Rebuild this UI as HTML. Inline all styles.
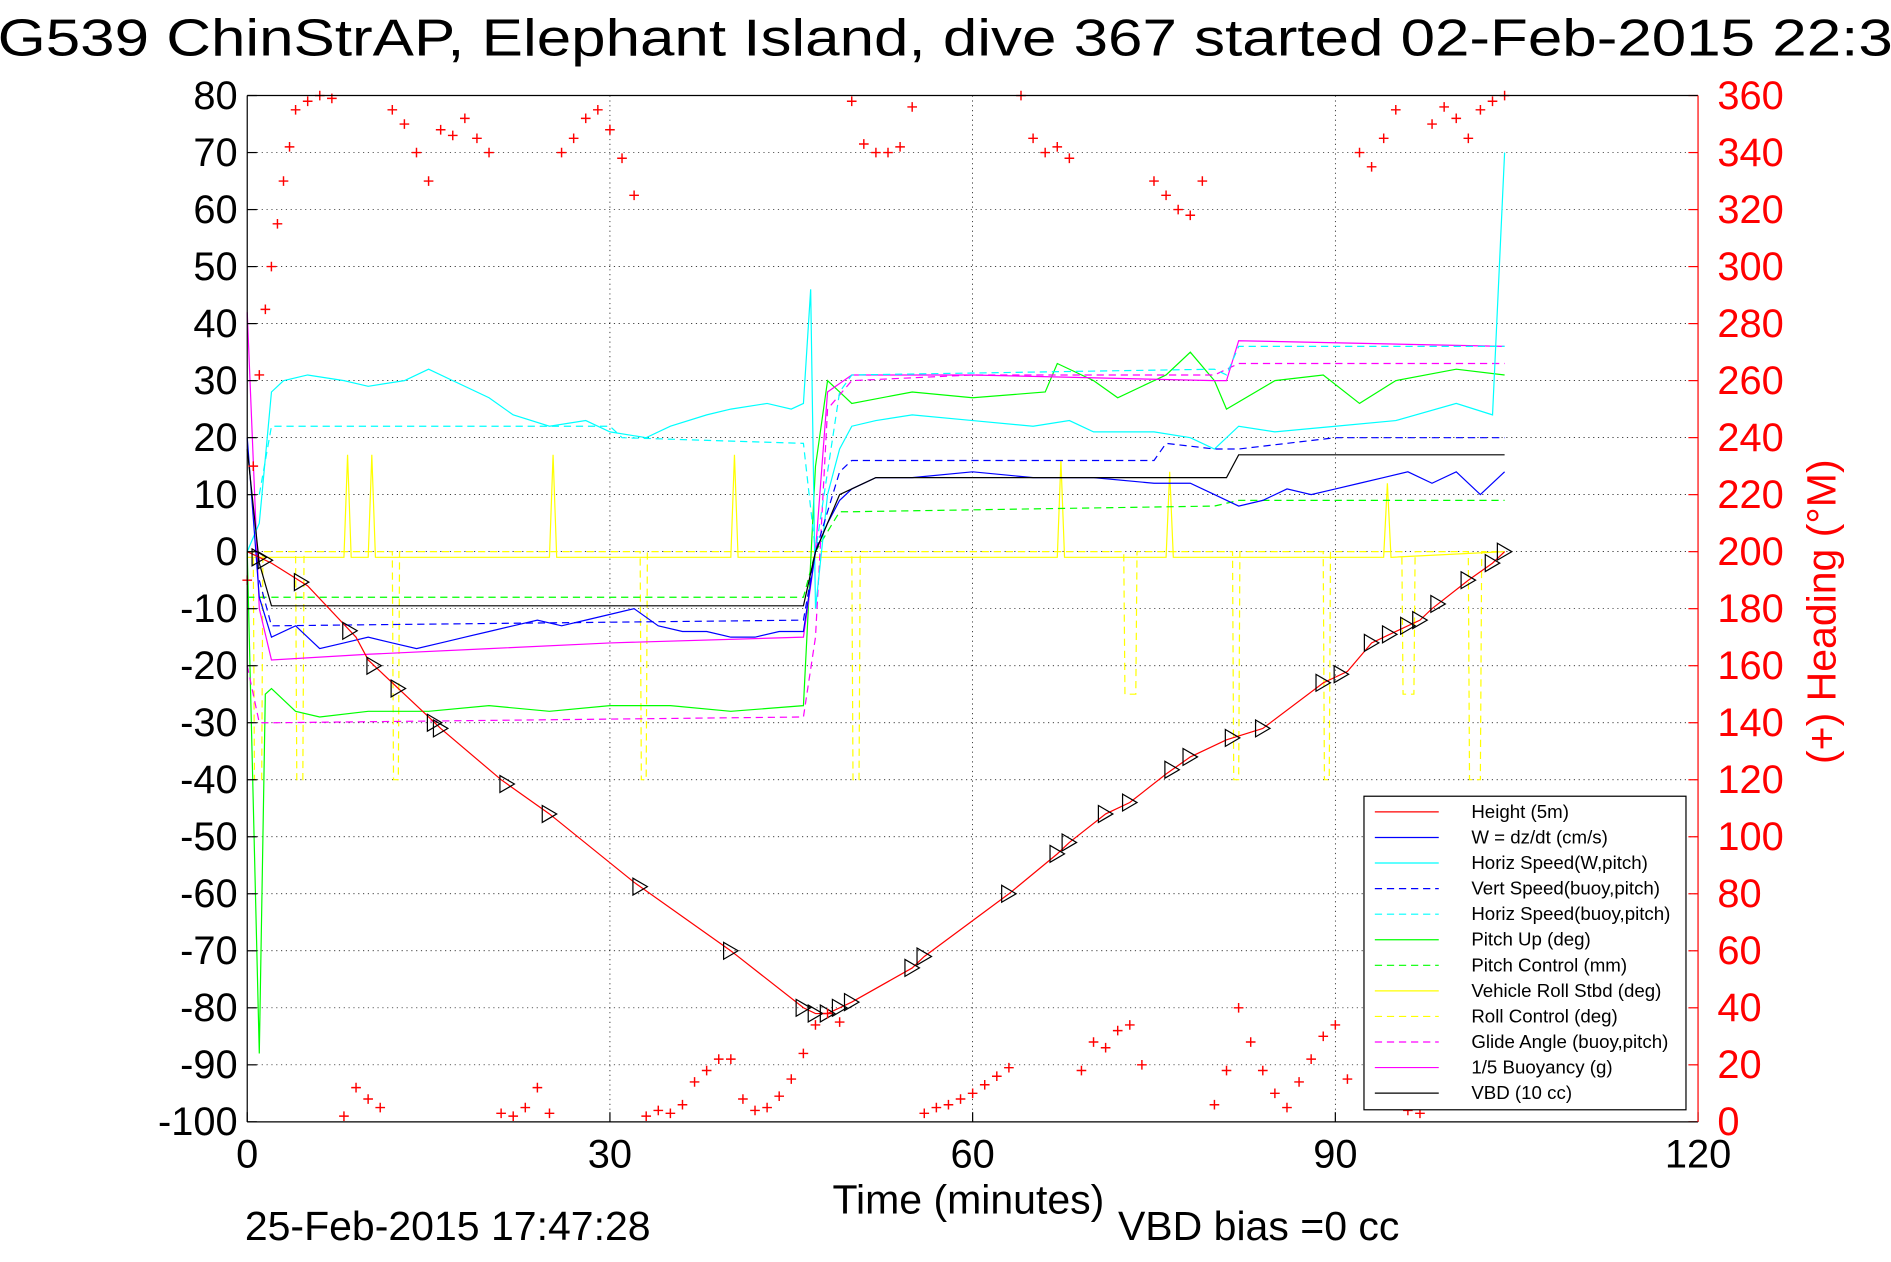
<!DOCTYPE html>
<html><head><meta charset="utf-8"><style>
html,body{margin:0;padding:0;background:#fff;}
svg{display:block;font-family:"Liberation Sans",sans-serif;}
</style></head><body>
<svg id="chart" width="1891" height="1262" viewBox="0 0 1568 1046" xmlns="http://www.w3.org/2000/svg">
<g id="grid"></g>
<g id="series"></g>
<g id="axes"></g>
<text x="-2" y="46" font-size="43" textLength="1600" lengthAdjust="spacingAndGlyphs">G539 ChinStrAP, Elephant Island, dive 367 started 02-Feb-2015 22:35</text>
<text x="803" y="1006" font-size="34" text-anchor="middle">Time (minutes)</text>
<text x="203" y="1028" font-size="34">25-Feb-2015 17:47:28</text>
<text x="927" y="1028" font-size="34">VBD bias =0 cc</text>
<text x="0" y="0" font-size="34" fill="#f00" text-anchor="middle" transform="translate(1522,507) rotate(-90)">(+) Heading (°M)</text>
<g id="legend"></g>
</svg>
<script>
const NS="http://www.w3.org/2000/svg";
const xTicks=[0,30,60,90,120];
const yTicks=[80,70,60,50,40,30,20,10,0,-10,-20,-30,-40,-50,-60,-70,-80,-90,-100];
const hTicks=[360,340,320,300,280,260,240,220,200,180,160,140,120,100,80,60,40,20,0];
// Height (5m)
const hT=[0,1,2,5,9,10,12,15,16,21,25,32,40,46,47,48,50,55,56,63,67,68,71,73,76,78,81,84,89,91,93,95,97,98,101,103,104];
const hV=[0,-1,-2,-6,-15,-19,-23,-29,-31,-40,-46,-58,-70,-80,-81,-81,-79,-73,-71,-60,-53,-51,-46,-44,-39,-36,-33,-31,-23,-21,-16,-14,-12,-10,-5,-2,0];
const markT=[1,1.5,4.5,8.5,10.5,12.5,15.5,16,21.5,25,32.5,40,46,47,48,49,50,55,56,63,67,68,71,73,76.5,78,81.5,84,89,90.5,93,94.5,96,97,98.5,101,103,104];
// W (blue solid)
const wT=[0,1,2,4,6,8,10,12,14,16,18,20,22,24,26,28,30,32,34,36,38,40,42,44,46,47,48,49,50,52,55,60,65,70,75,78,80,82,84,86,88,90,92,94,96,98,100,102,104];
const wV=[20,-8,-15,-13,-17,-16,-15,-16,-17,-16,-15,-14,-13,-12,-13,-12,-11,-10,-13,-14,-14,-15,-15,-14,-14,0,5,9,11,13,13,14,13,13,12,12,10,8,9,11,10,11,12,13,14,12,14,10,14];
// Horiz speed (W,pitch) cyan
const hsT=[0,1,2,3,5,8,10,13,15,17,20,22,25,28,30,33,35,38,40,43,45,46,46.6,47,48,49,50,52,55,60,65,68,70,75,78,80,82,85,90,95,100,103,104];
const hsV=[0,5,28,30,31,30,29,30,32,30,27,24,22,23,21,20,22,24,25,26,25,26,46,-10,10,18,22,23,24,23,22,23,21,21,20,18,22,21,22,23,26,24,70];
// Vert speed buoy (blue dashed)
const vsT=[1,2,46,47,49,50,75,76,80,82,90,104];
const vsV=[-5,-13,-12,0,14,16,16,19,18,18,20,20];
// Horiz speed buoy (cyan dashed)
const hbT=[1,2,30,31,46,47,49,50,80,81,82,104];
const hbV=[10,22,22,20,19,0,28,31,32,31,36,36];
// Pitch up (green solid)
const puT=[0,1,1.5,2,4,6,10,15,20,25,30,35,40,46,47,48,49,50,55,60,66,67,70,72,76,78,80,81,85,89,92,95,100,104];
const puV=[0,-88,-25,-24,-28,-29,-28,-28,-27,-28,-27,-27,-28,-27,15,30,28,26,28,27,28,33,30,27,31,35,30,25,30,31,26,30,32,31];
// Pitch control (green dashed)
const pcT=[0,46,47,49,50,80,82,104];
const pcV=[-8,-8,0,7,7,8,9,9];
// Vehicle roll (yellow solid)
const vrT=[0,8,8.3,8.6,10,10.3,10.6,25,25.3,25.6,40,40.3,40.6,67,67.3,67.6,76,76.3,76.6,94,94.3,94.6,104];
const vrV=[-1,-1,17,-1,-1,17,-1,-1,17,-1,-1,17,-1,-1,16,-1,-1,14,-1,-1,12,-1,0];
// Roll control (yellow dashed)
const rcT=[0,0.5,0.6,1.2,1.3,4,4.1,4.6,4.7,12,12.1,12.5,12.6,32.5,32.6,33,33.1,50,50.1,50.6,50.7,72.5,72.6,73.5,73.6,81.5,81.6,82,82.1,89,89.1,89.5,89.6,95.5,95.6,96.5,96.6,101,101.1,102,102.1,104];
const rcV=[0,0,-40,-40,0,0,-40,-40,0,0,-40,-40,0,0,-40,-40,0,0,-40,-40,0,0,-25,-25,0,0,-40,-40,0,0,-40,-40,0,0,-25,-25,0,0,-40,-40,0,0];
// Glide angle (magenta dashed)
const gaT=[0,1,2,46,47,48,50,60,80,82,104];
const gaV=[-20,-30,-30,-29,-15,25,30,31,31,33,33];
// 1/5 buoyancy (magenta solid)
const buT=[0,1,2,10,20,30,46,47,48,50,60,80,81,82,104];
const buV=[42,-10,-19,-18,-17,-16,-15,0,28,31,31,30,30,37,36];
// VBD (black)
const vbT=[0,1,2,46,47,49,52,81,82,104];
const vbV=[18,-2,-9.5,-9.5,0,10,13,13,17,17];
// Heading (+ markers)
const hdT=[0,0.5,1,1.5,2,2.5,3,3.5,4,5,6,7,8,9,10,11,12,13,14,15,16,17,18,19,20,21,22,23,24,25,26,27,28,29,30,31,32,33,34,35,36,37,38,39,40,41,42,43,44,45,46,47,48,49,50,51,52,53,54,55,56,57,58,59,60,61,62,63,64,65,66,67,68,69,70,71,72,73,74,75,76,77,78,79,80,81,82,83,84,85,86,87,88,89,90,91,92,93,94,95,96,97,98,99,100,101,102,103,104];
const hdV=[190,230,262,285,300,315,330,342,355,358,360,359,2,12,8,5,355,350,340,330,348,346,352,345,340,3,2,5,12,3,340,345,352,355,348,338,325,2,4,3,6,14,18,22,22,8,4,5,9,15,24,34,38,35,358,343,340,340,342,356,3,5,6,8,10,13,16,19,360,345,340,342,338,18,28,26,32,34,20,330,325,320,318,330,6,18,40,28,18,10,5,14,22,30,34,15,340,335,345,355,4,3,350,356,352,345,355,358,360];
const legendItems=[["Height (5m)","#f00",""],["W = dz/dt (cm/s)","#00f",""],["Horiz Speed(W,pitch)","#0ff",""],["Vert Speed(buoy,pitch)","#00f","6,4"],["Horiz Speed(buoy,pitch)","#0ff","6,4"],["Pitch Up (deg)","#0f0",""],["Pitch Control (mm)","#0f0","6,4"],["Vehicle Roll Stbd (deg)","#ff0",""],["Roll Control (deg)","#ff0","6,4"],["Glide Angle (buoy,pitch)","#f0f","6,4"],["1/5 Buoyancy (g)","#f0f",""],["VBD (10 cc)","#000",""]];

const X0=205,X1=1408,Y0=930,Y1=79;
const xs=t=>X0+(t/120)*(X1-X0);
const ys=v=>Y0-((v+100)/180)*(Y0-Y1);
const yh=h=>Y0-(h/360)*(Y0-Y1);
function mk(tag,attrs,parent){const e=document.createElementNS(NS,tag);for(const k in attrs)e.setAttribute(k,attrs[k]);parent.appendChild(e);return e;}
const grid=document.getElementById('grid'),axes=document.getElementById('axes'),ser=document.getElementById('series'),leg=document.getElementById('legend');
mk('rect',{x:X0,y:Y1,width:X1-X0,height:Y0-Y1,fill:'#fff',stroke:'none'},grid);
xTicks.forEach(t=>{
  if(t>0&&t<120){const l=mk('line',{x1:xs(t),x2:xs(t),y1:Y1,y2:Y0,stroke:'#000','stroke-width':0.6,'stroke-dasharray':'1,3'},grid);
  
  }
  const tx=mk('text',{x:xs(t),y:Y0+38,'font-size':33,'text-anchor':'middle'},axes);tx.textContent=t;
  
  
  mk('line',{x1:xs(t),x2:xs(t),y1:Y0,y2:Y0-8,stroke:'#000'},axes);
});
yTicks.forEach(v=>{
  if(v>-100&&v<80){const l=mk('line',{x1:X0,x2:X1,y1:ys(v),y2:ys(v),stroke:'#000','stroke-width':0.6,'stroke-dasharray':'1,3'},grid);
  
  }
  const tx=mk('text',{x:X0-8,y:ys(v)+11,'font-size':33,'text-anchor':'end'},axes);tx.textContent=v;
  
  
  mk('line',{x1:X0,x2:X0+8,y1:ys(v),y2:ys(v),stroke:'#000'},axes);
});
hTicks.forEach(h=>{
  const tx=mk('text',{x:X1+16,y:yh(h)+11,'font-size':33,fill:'#f00'},axes);tx.textContent=h;
  
  
  mk('line',{x1:X1,x2:X1-8,y1:yh(h),y2:yh(h),stroke:'#f00'},axes);
});
mk('line',{x1:X0,x2:X1,y1:Y1,y2:Y1,stroke:'#000'},axes);
mk('line',{x1:X0,x2:X1,y1:Y0,y2:Y0,stroke:'#000'},axes);
mk('line',{x1:X0,x2:X0,y1:Y1,y2:Y0,stroke:'#000'},axes);
mk('line',{x1:X1,x2:X1,y1:Y1,y2:Y0,stroke:'#f00'},axes);

function line(T,V,color,dash,name){
  const pts=T.map((t,i)=>xs(t).toFixed(1)+','+ys(V[i]).toFixed(1)).join(' ');
  const p=mk('polyline',{points:pts,fill:'none',stroke:color,'stroke-width':1,'stroke-dasharray':dash||'none'},ser);
  
  
}
line(rcT,rcV,'#ff0','6,4','roll-control-line');
line(vrT,vrV,'#ff0','','vehicle-roll-line');
line(pcT,pcV,'#0f0','6,4','pitch-control-line');
line(puT,puV,'#0f0','','pitch-up-line');
line(gaT,gaV,'#f0f','6,4','glide-angle-line');
line(buT,buV,'#f0f','','buoyancy-line');
line(hbT,hbV,'#0ff','6,4','horiz-speed-buoy-line');
line(hsT,hsV,'#0ff','','horiz-speed-line');
line(vsT,vsV,'#00f','6,4','vert-speed-buoy-line');
line(wT,wV,'#00f','','w-line');
line(vbT,vbV,'#000','','vbd-line');
line(hT,hV,'#f00','','height-line');
function interp(T,V,t){for(let i=1;i<T.length;i++){if(t<=T[i]){const f=(t-T[i-1])/(T[i]-T[i-1]);return V[i-1]+f*(V[i]-V[i-1]);}}return V[V.length-1];}
markT.forEach(t=>{
  const cx=xs(t),cy=ys(interp(hT,hV,t));
  const p=mk('polygon',{points:`${cx-6},${cy-7} ${cx+6},${cy} ${cx-6},${cy+7}`,fill:'none',stroke:'#000','stroke-width':1},ser);
  
  
});
hdT.forEach((t,i)=>{
  const cx=xs(t),cy=yh(hdV[i]);
  const p=mk('path',{d:`M${cx-4},${cy}H${cx+4}M${cx},${cy-4}V${cy+4}`,stroke:'#f00','stroke-width':1.2},ser);
  
  
});
// legend
const LX=1131,LY=660,LW=267,LH=260;
mk('rect',{x:LX,y:LY,width:LW,height:LH,fill:'#fff',stroke:'#000'},leg);
legendItems.forEach((it,i)=>{
  const y=LY+13+i*21.2;
  const l=mk('line',{x1:LX+9,x2:LX+62,y1:y,y2:y,stroke:it[1],'stroke-dasharray':it[2]||'none'},leg);
  
  
  const tx=mk('text',{x:LX+89,y:y+5,'font-size':15.5},leg);tx.textContent=it[0];
  
  
});
</script>
</body></html>
